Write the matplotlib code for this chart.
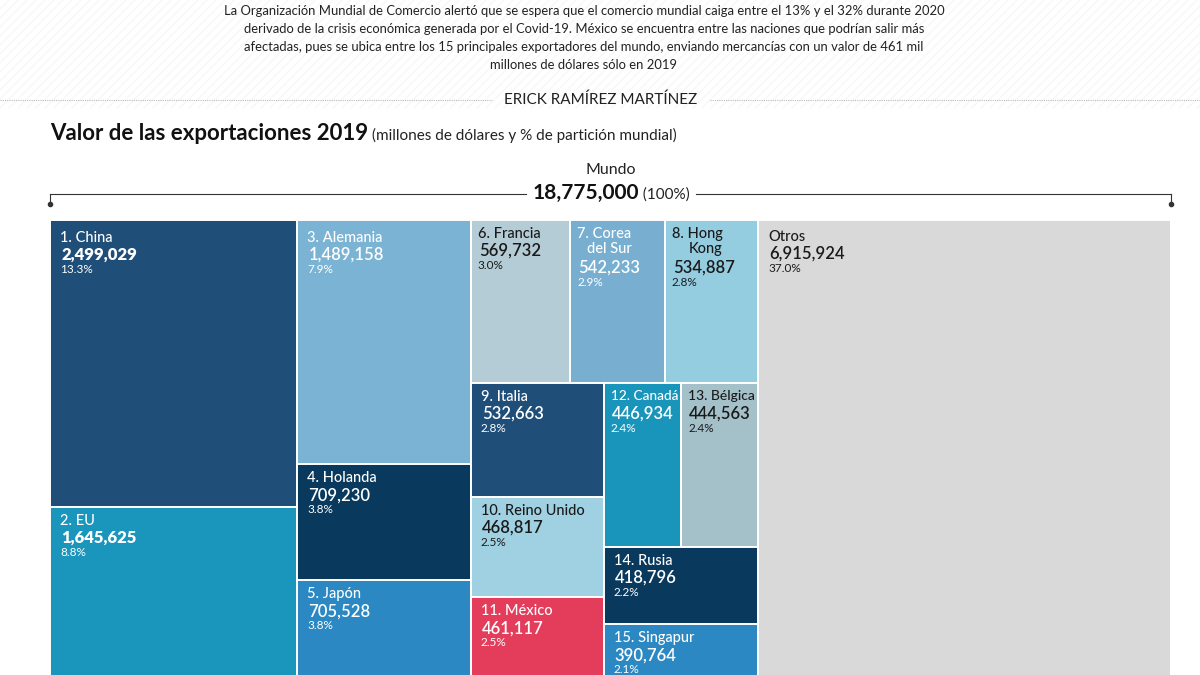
import matplotlib
matplotlib.use("Agg")
import matplotlib.pyplot as plt
from matplotlib.patches import Rectangle
from matplotlib.lines import Line2D

plt.rcParams['font.family'] = ['Lato', 'DejaVu Sans']

# ---------------- data ----------------
names = ["1. China", "2. EU", "3. Alemania", "4. Holanda", "5. Japón",
         "6. Francia", "7. Corea\ndel Sur", "8. Hong\nKong", "9. Italia",
         "10. Reino Unido", "11. México", "12. Canadá", "13. Bélgica",
         "14. Rusia", "15. Singapur", "Otros"]
values = [2499029, 1645625, 1489158, 709230, 705528, 569732, 542233, 534887,
          532663, 468817, 461117, 446934, 444563, 418796, 390764, 6915924]
percents = [13.3, 8.8, 7.9, 3.8, 3.8, 3.0, 2.9, 2.8, 2.8, 2.5, 2.5, 2.4, 2.4,
            2.2, 2.1, 37.0]
world_total = 18775000
world_pct = 100

colors = ["#1f4e79", "#1a95bb", "#7bb3d4", "#093a5e", "#2b88c2",
          "#b4ccd5", "#78aed0", "#95cde0", "#1f4e79", "#9fd1e2",
          "#e33d5b", "#1995bb", "#a4c1ca", "#093a5e", "#2b88c2", "#d9d9d9"]
text_colors = ["white", "white", "white", "white", "white",
               "#1a1a1a", "white", "#1a1a1a", "white", "#1a1a1a",
               "white", "white", "#1a1a1a", "white", "white", "#1a1a1a"]

# nested split structure: 'h' = side by side, 'v' = stacked
layout = ('h', [('v', [0, 1]),
                ('v', [2, 3, 4]),
                ('v', [('h', [5, 6, 7]),
                       ('h', [('v', [8, 9, 10]),
                              ('v', [('h', [11, 12]), 13, 14])])]),
                15])

header_lines = [
    "La Organización Mundial de Comercio alertó que se espera que el comercio mundial caiga entre el 13% y el 32% durante 2020",
    "derivado de la crisis económica generada por el Covid-19. México se encuentra entre las naciones que podrían salir más",
    "afectadas, pues se ubica entre los 15 principales exportadores del mundo, enviando mercancías con un valor de 461 mil",
    "millones de dólares sólo en 2019",
]
author = "ERICK RAMÍREZ MARTÍNEZ"
title = "Valor de las exportaciones 2019"
subtitle = "(millones de dólares y % de partición mundial)"


def node_total(node):
    if isinstance(node, int):
        return values[node]
    return sum(node_total(c) for c in node[1])


def place(node, x, y, w, h, out):
    if isinstance(node, int):
        out[node] = (x, y, w, h)
        return
    kind, children = node
    tot = node_total(node)
    pos = 0.0
    for c in children:
        frac = node_total(c) / tot
        if kind == 'h':
            place(c, x + pos * w, y, frac * w, h, out)
        else:
            place(c, x, y + pos * h, w, frac * h, out)
        pos += frac


W, H = 1200, 675
fig = plt.figure(figsize=(12, 6.75), dpi=100)
fig.patch.set_facecolor("white")


def fx(x):
    return x / W


def fy(y):
    return 1 - y / H


# faint diagonal stripes in header band
band = 108
for s in range(-band, W + band, 9):
    fig.add_artist(Line2D([fx(s), fx(s + band)], [fy(band), fy(0)],
                          transform=fig.transFigure, color="#f7f7f7", lw=1.0,
                          zorder=-5))

# ---------------- header ----------------
for i, line in enumerate(header_lines):
    fig.text(fx(584), fy(11 + 18 * i), line, ha='center', va='center',
             fontsize=9.4, color="#222222")

fig.text(fx(601), fy(100), author, ha='center', va='center',
         fontsize=11, color="#222222")
fig.add_artist(Line2D([fx(0), fx(492)], [fy(100), fy(100)], transform=fig.transFigure,
                      color="#bbbbbb", lw=0.8, ls=(0, (1, 1))))
fig.add_artist(Line2D([fx(710), fx(1200)], [fy(100), fy(100)], transform=fig.transFigure,
                      color="#bbbbbb", lw=0.8, ls=(0, (1, 1))))

renderer = fig.canvas.get_renderer()

t_title = fig.text(fx(50), fy(140), title, ha='left', va='baseline',
                   fontsize=16, fontweight='bold', color="#111111")
bb = t_title.get_window_extent(renderer)
fig.text(fx(bb.x1 + 4), fy(140), subtitle, ha='left', va='baseline',
         fontsize=11, color="#222222")

# world total
fig.text(fx(611), fy(170), "Mundo", ha='center', va='center',
         fontsize=11.5, color="#222222")
t_num = fig.text(0, fy(199), f"{world_total:,}", ha='left', va='baseline',
                 fontsize=15, fontweight='bold', color="#111111")
t_pct = fig.text(0, fy(199), f" ({world_pct}%)", ha='left', va='baseline',
                 fontsize=11, color="#222222")
w1 = t_num.get_window_extent(renderer).width
w2 = t_pct.get_window_extent(renderer).width
start = 611 - (w1 + w2) / 2
t_num.set_x(fx(start))
t_pct.set_x(fx(start + w1))
ly = 194
lc = "#333333"
fig.add_artist(Line2D([fx(50), fx(start - 6)], [fy(ly), fy(ly)],
                      transform=fig.transFigure, color=lc, lw=0.8))
fig.add_artist(Line2D([fx(start + w1 + w2 + 6), fx(1171)], [fy(ly), fy(ly)],
                      transform=fig.transFigure, color=lc, lw=0.8))
for xe in (50, 1171):
    fig.add_artist(Line2D([fx(xe), fx(xe)], [fy(ly), fy(ly + 9)],
                          transform=fig.transFigure, color=lc, lw=0.8))
    fig.add_artist(Line2D([fx(xe)], [fy(ly + 10)], transform=fig.transFigure,
                          marker='o', ms=3, color=lc, lw=0))

# ---------------- treemap ----------------
top, bottom = 220, 696
ax_w_px = 1171 - 50
ax_h_px = bottom - top
ax = fig.add_axes([fx(50), fy(bottom), ax_w_px / W, ax_h_px / H])
ax.set_xlim(0, 1)
ax.set_ylim(1, 0)
ax.axis('off')

rects = {}
place(layout, 0.0, 0.0, 1.0, 1.0, rects)

# extra label drop (px) for a few large cells, as in the original
label_drop = {0: 4, 2: 4, 15: 3}

PT = 0.72  # points per pixel
for i in range(len(names)):
    x, y, w, h = rects[i]
    ax.add_patch(Rectangle((x, y), w, h, facecolor=colors[i],
                           edgecolor="white", lw=1.4))
    tc = text_colors[i]
    nlines = names[i].count("\n") + 1
    cell_px = w * ax_w_px
    pad = 10 if cell_px > 110 else 7
    d = label_drop.get(i, 0)
    t = ax.annotate(names[i], xy=(x, y), xytext=(pad * PT, -(7 + d) * PT),
                    textcoords='offset points', ha='left', va='top',
                    fontsize=10.5, color=tc, fontweight='medium',
                    multialignment='right' if nlines > 1 else 'left',
                    linespacing=1.05)
    tw = t.get_window_extent(renderer).width
    avail = cell_px - pad - 3
    if tw > avail:
        t.set_fontsize(10.5 * avail / tw)
    vy = 7 + d + 16 + 17 * (nlines - 1)
    big = i in (0, 1)
    ax.annotate(f"{values[i]:,}", xy=(x, y), xytext=((pad + 1) * PT, -vy * PT),
                textcoords='offset points', ha='left', va='top',
                fontsize=12, color=tc,
                fontweight='heavy' if big else 'semibold')
    ax.annotate(f"{percents[i]:.1f}%", xy=(x, y), xytext=(pad * PT, -(vy + 17) * PT),
                textcoords='offset points', ha='left', va='top',
                fontsize=8.5, color=tc)

fig.savefig("out.png", dpi=100)
